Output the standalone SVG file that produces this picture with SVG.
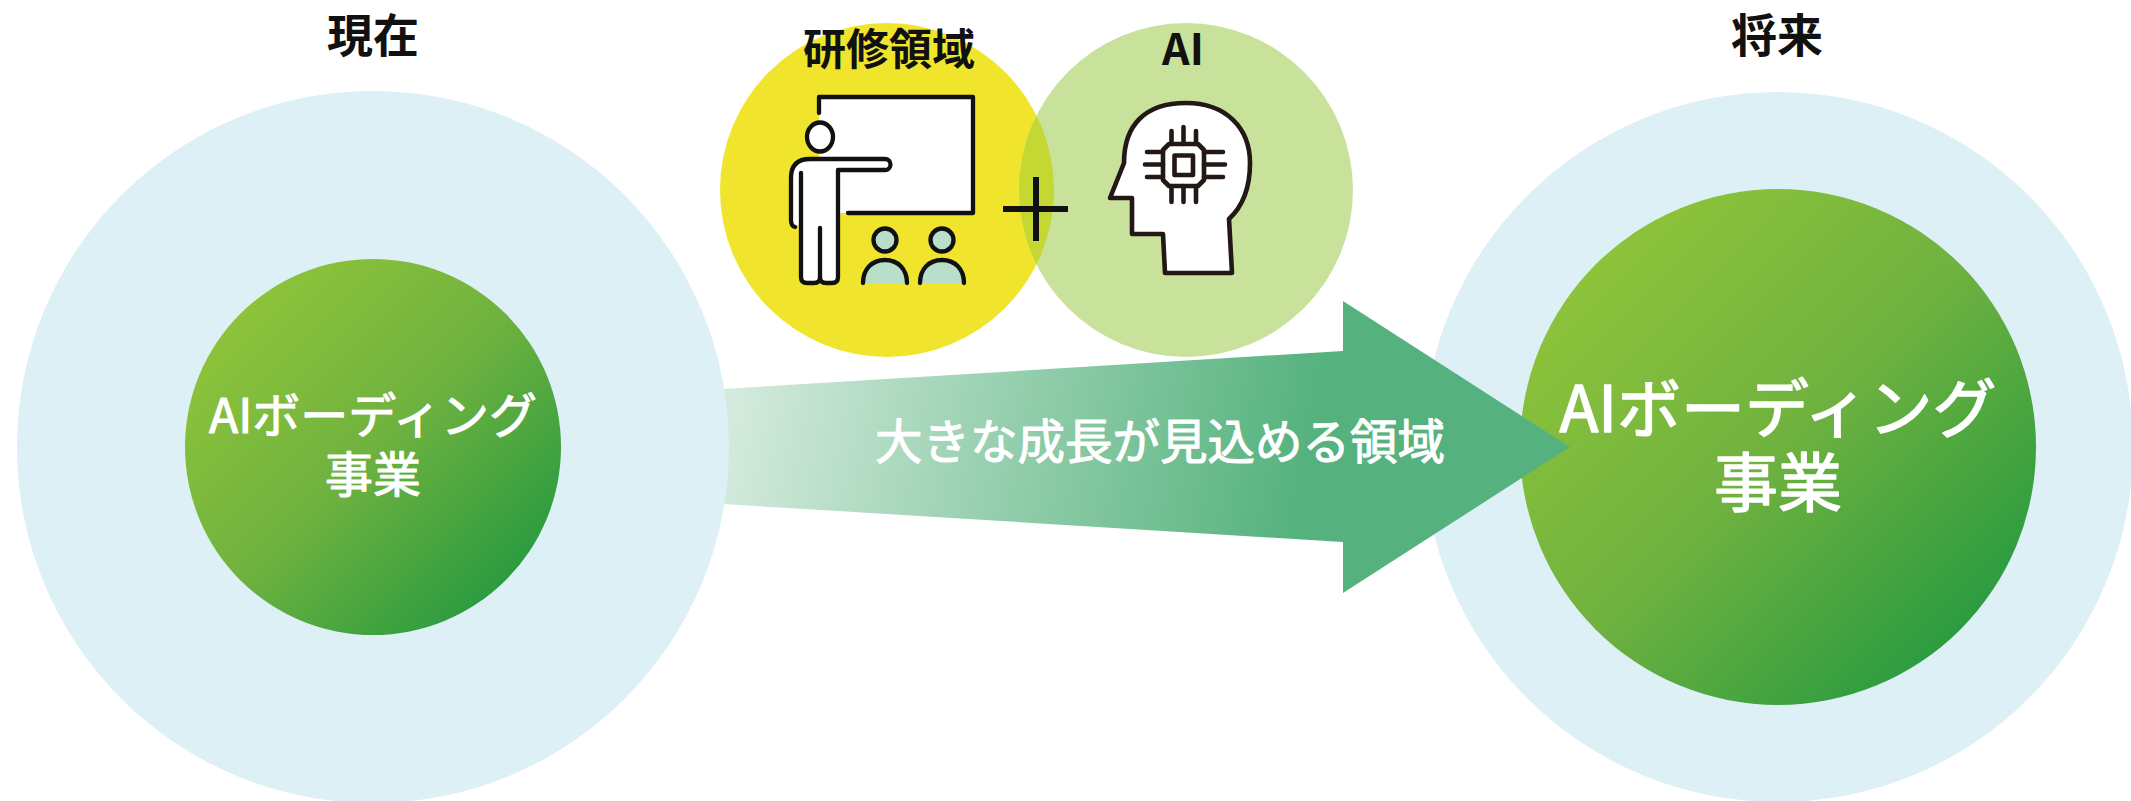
<svg xmlns="http://www.w3.org/2000/svg" width="2131" height="801" viewBox="0 0 2131 801">
<style>
.title{font-family:"Noto Sans CJK JP","Noto Sans",sans-serif;font-weight:700;fill:#111;text-anchor:middle}
.wt{font-family:"Noto Sans CJK JP","Noto Sans",sans-serif;font-weight:400;fill:#fff;stroke:#fff;stroke-width:1.1;stroke-linejoin:round;text-anchor:middle}
.outer{fill:#ddf0f6}
.ln{fill:none;stroke:#111;stroke-width:4.3;stroke-linecap:round;stroke-linejoin:round}
.ln2{fill:none;stroke:#231815;stroke-width:4.6;stroke-linecap:round;stroke-linejoin:round}
</style>
<defs>
<linearGradient id="gInner" x1="0" y1="0" x2="1" y2="1">
<stop offset="0.12" stop-color="#8fc43a"/>
<stop offset="0.5" stop-color="#6fb23f"/>
<stop offset="0.88" stop-color="#279a40"/>
</linearGradient>
<linearGradient id="gArrow" gradientUnits="userSpaceOnUse" x1="740" y1="390" x2="1300" y2="500">
<stop offset="0" stop-color="#d3eadc"/>
<stop offset="0.45" stop-color="#98d0b0"/>
<stop offset="1" stop-color="#55b27e"/>
</linearGradient>
<clipPath id="clipY"><circle cx="887" cy="190" r="167"/></clipPath>
</defs>

<g id="right-node">
<circle class="outer" cx="1778" cy="447" r="355"/>
<circle cx="1778" cy="447" r="258" fill="url(#gInner)"/>
</g>

<g id="connectors">
<polygon points="723,389 1343,351 1343,301 1570,447 1343,593 1343,542 723,504" fill="url(#gArrow)"/>
<text class="wt" x="1160" y="459" font-size="47.5">大きな成長が見込める領域</text>
</g>

<g id="right-label">
<text class="title" x="1777" y="52" font-size="46">将来</text>
<text class="wt" x="1778" y="432" font-size="64" style="stroke-width:1.5">AIボーディング</text>
<text class="wt" x="1778" y="506" font-size="64" style="stroke-width:1.5">事業</text>
</g>

<g id="left-node">
<text class="title" x="373" y="52" font-size="46">現在</text>
<circle class="outer" cx="373" cy="447" r="356"/>
<circle cx="373" cy="447" r="188" fill="url(#gInner)"/>
<text class="wt" x="373" y="433" font-size="48">AIボーディング</text>
<text class="wt" x="373" y="492" font-size="48">事業</text>
</g>

<g id="training-node">
<circle cx="887" cy="190" r="167" fill="#f0e52c"/>
<text class="title" x="889" y="65" font-size="43">研修領域</text>
</g>

<g id="ai-node">
<circle cx="1186" cy="190" r="167" fill="#c8e29c"/>
<circle cx="1186" cy="190" r="167" fill="#c5d732" clip-path="url(#clipY)"/>
<text class="title" x="1183" y="65" font-size="43">AI</text>
</g>

<g id="teacher-icon">
<rect x="819" y="97" width="154" height="116" fill="#fff"/>
<path class="ln" d="M819,113 L819,97 L973,97 L973,213 L848,213"/>
<path d="M791,225 L791,178 Q791,159 810,159 L885,159 A5.5,5.5 0 0 1 885,170 L838,170 L838,277 Q838,283 832,283 L826,283 Q820,283 820,277 Q820,283 814,283 L807,283 Q801,283 801,277 L801,225 Z" fill="#fff"/>
<ellipse cx="820" cy="137" rx="13" ry="14.5" fill="#fff" stroke="#111" stroke-width="4.3"/>
<path class="ln" d="M795,227 Q791,226 791,220 L791,178 Q791,159 810,159 L885,159 A5.5,5.5 0 0 1 885,170 L838,170 L838,277 Q838,283 832,283 L826,283 Q820,283 820,277"/>
<path class="ln" d="M801,173 L801,277 Q801,283 807,283 L814,283 Q820,283 820,277 L820,228"/>
<circle cx="885" cy="240" r="11.5" fill="#b9dfcb" stroke="#111" stroke-width="4.3"/>
<circle cx="942" cy="240" r="11.5" fill="#b9dfcb" stroke="#111" stroke-width="4.3"/>
<path d="M863,283 C863,269 872,260 885,260 C898,260 907,269 907,283" class="ln" style="fill:#b9dfcb"/>
<path d="M920,283 C920,269 929,260 942,260 C955,260 964,269 964,283" class="ln" style="fill:#b9dfcb"/>
</g>

<g id="plus">
<path d="M1003,209 L1068,209 M1036,177 L1036,241" stroke="#111" stroke-width="6" fill="none"/>
</g>

<g id="ai-head-icon">
<path class="ln2" style="fill:#fff" d="M1110,198 L1124,163 C1124,125 1145,103 1186,103 C1226,103 1250,128 1250,163 C1250,190 1242,207 1229,219 L1232,273 L1165,273 L1163,234 L1132,234 L1132,198 Z"/>
<path class="ln2" d="M1169,144 L1198,144 L1204,150 L1204,180 L1198,186 L1169,186 L1163,180 L1163,150 Z"/>
<rect class="ln2" x="1174.5" y="155.5" width="18.5" height="19.5"/>
<path class="ln2" d="M1171.5,131 L1171.5,144 M1183.5,127 L1183.5,144 M1196,131 L1196,144 M1171.5,186 L1171.5,202 M1183.5,186 L1183.5,202 M1196,186 L1196,202 M1147,152 L1163,152 M1145,164.5 L1163,164.5 M1147,177 L1163,177 M1204,152 L1223,152 M1204,164.5 L1225,164.5 M1204,177 L1223,177"/>
</g>
</svg>
